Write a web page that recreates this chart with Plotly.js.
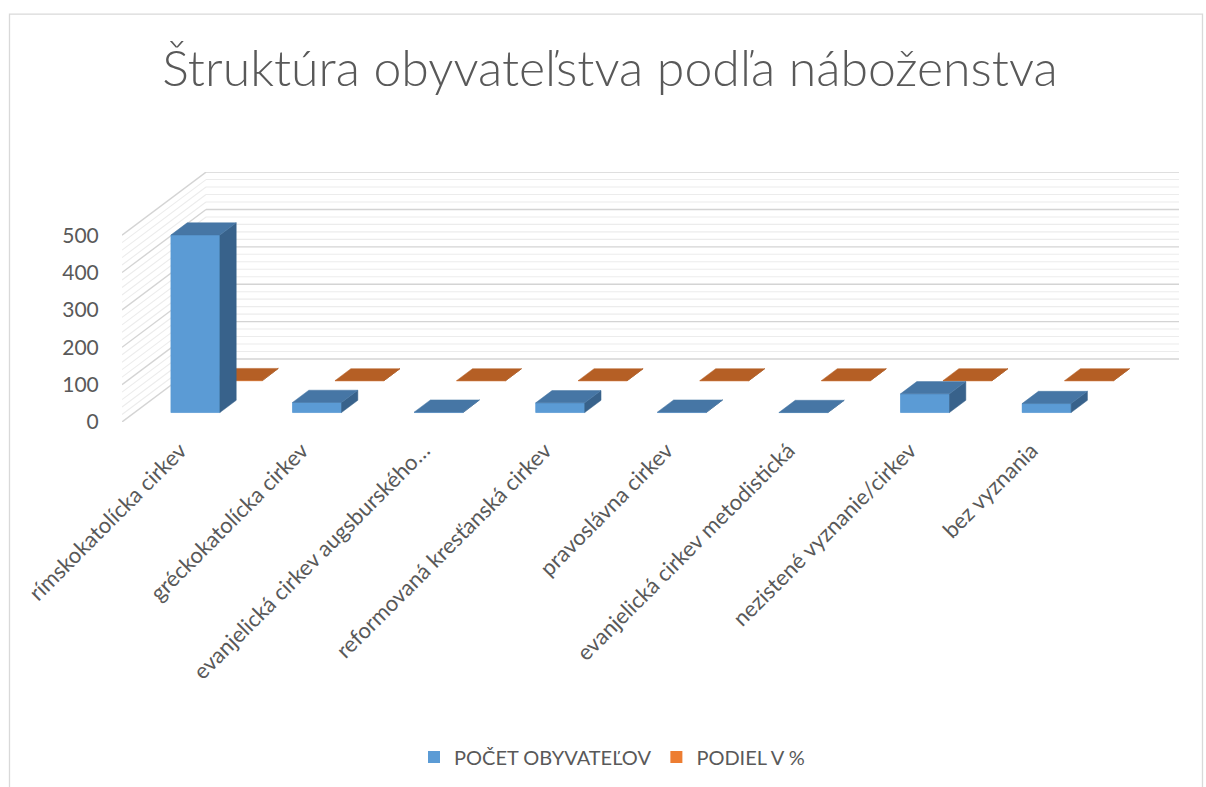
<!DOCTYPE html>
<html>
<head>
<meta charset="utf-8">
<script src="https://cdn.plot.ly/plotly-3.0.1.min.js"></script>
<style>html,body{margin:0;padding:0;background:#fff;}#chart{width:1206px;height:787px;}</style>
</head>
<body>
<div id="chart"></div>
<script>
// ---- data ----
const categories = [
  "rímskokatolícka cirkev",
  "gréckokatolícka cirkev",
  "evanjelická cirkev augsburského…",
  "reformovaná kresťanská cirkev",
  "pravoslávna cirkev",
  "evanjelická cirkev metodistická",
  "nezistené vyznanie/cirkev",
  "bez vyznania"
];
const pocetObyvatelov = [475, 27, 1, 26, 1, 0, 50, 24];
const podielPercent = [0.786, 0.045, 0.002, 0.043, 0.002, 0, 0.083, 0.04];
const yTicks = [0, 100, 200, 300, 400, 500];
const seriesNames = ["POČET OBYVATEĽOV", "PODIEL V %"];

// ---- projection (oblique 3D look) ----
const PX_PER_UNIT = 0.3752;   // px per value unit
const PX_PER_CAT = 121.6;     // px per category
const SLANT = 1.327;          // horizontal px per vertical depth px
const WALL_DEPTH = 63.3;      // px
const BAR_W = 0.403;
function dOff(d){ return [d * SLANT / PX_PER_CAT, d / PX_PER_UNIT]; }
const XMAX = 1057 / PX_PER_CAT;
const YMAX = 251 / PX_PER_UNIT;

const rows = [
  {vals: pocetObyvatelov, front: 9.5, back: 21.8, color: "#5B9BD5", top: "#4676A5", side: "#38628B"},
  {vals: podielPercent, front: 41.5, back: 53.5, color: "#ED7D31", top: "#B55F25", side: "#96501F"}
];

const legendTraces = [];
const faceTraces = [];
// back row first so the front row covers it
[1, 0].forEach(r => {
  const row = rows[r];
  const [fx, fy] = dOff(row.front);
  const [bx, by] = dOff(row.back);
  legendTraces.push({
    type: "bar", x: categories.map((c, i) => i + 0.5 + fx), y: row.vals, base: row.vals.map(() => fy), width: BAR_W,
    marker: {color: row.color, line: {width: 0}}, name: seriesNames[r],
    hoverinfo: "skip", legendrank: r
  });
  const frX = [], frY = [], topX = [], topY = [], sideX = [], sideY = [];
  row.vals.forEach((v, i) => {
    const xl = i + 0.5 - BAR_W / 2, xr = i + 0.5 + BAR_W / 2;
    frX.push(xl + fx, xr + fx, xr + fx, xl + fx, xl + fx, null);
    frY.push(fy, fy, v + fy, v + fy, fy, null);
    topX.push(xl + fx, xr + fx, xr + bx, xl + bx, xl + fx, null);
    topY.push(v + fy, v + fy, v + by, v + by, v + fy, null);
    sideX.push(xr + fx, xr + bx, xr + bx, xr + fx, xr + fx, null);
    sideY.push(fy, by, v + by, v + fy, fy, null);
  });
  faceTraces.push({type: "scatter", mode: "lines", x: frX, y: frY, fill: "toself",
    fillcolor: row.color, line: {width: 0.5, color: row.color}, showlegend: false, hoverinfo: "skip"});
  faceTraces.push({type: "scatter", mode: "lines", x: sideX, y: sideY, fill: "toself",
    fillcolor: row.side, line: {width: 0.5, color: row.side}, showlegend: false, hoverinfo: "skip"});
  faceTraces.push({type: "scatter", mode: "lines", x: topX, y: topY, fill: "toself",
    fillcolor: row.top, line: {width: 0.5, color: row.top}, showlegend: false, hoverinfo: "skip"});
});
const traces = legendTraces.reverse().concat(faceTraces);

// ---- walls (gridlines) ----
const shapes = [];
const [wx, wy] = dOff(WALL_DEPTH);
for (let v = 0; v <= 500; v += 20) {
  const major = v % 100 === 0;
  const ln = {color: major ? "#D4D4D4" : "#ECECEC", width: major ? 1.4 : 1.1};
  shapes.push({type: "line", layer: "below", xref: "x", yref: "y", x0: 0, y0: v, x1: wx, y1: v + wy, line: ln});
  shapes.push({type: "line", layer: "below", xref: "x", yref: "y", x0: wx, y0: v + wy, x1: XMAX, y1: v + wy, line: ln});
}
// chart border
const pxX = p => (p - 122) / 1057;
const pxY = p => (423 - p) / 251;
shapes.push({type: "rect", xref: "paper", yref: "paper", x0: pxX(9.5), x1: pxX(1202.5), y0: pxY(13.5), y1: pxY(800),
  line: {color: "#D9D9D9", width: 1.3}, fillcolor: "rgba(0,0,0,0)", layer: "below"});

const font = "Lato, 'Open Sans', sans-serif";
const grey = "#595959";
const layout = {
  width: 1206, height: 787,
  margin: {l: 122, r: 27, t: 172, b: 364},
  paper_bgcolor: "#fff", plot_bgcolor: "rgba(0,0,0,0)",
  barmode: "overlay",
  showlegend: true,
  title: {text: "Štruktúra obyvateľstva podľa náboženstva", xref: "container", yref: "container",
    x: 610 / 1206, y: 1 - 68 / 787, xanchor: "center", yanchor: "middle",
    font: {family: font, size: 50, color: grey, weight: 300}},
  xaxis: {range: [0, XMAX], tickmode: "array", tickvals: categories.map((c, i) => i + 0.5 - 0.02), ticktext: categories,
    tickangle: -45, showgrid: false, zeroline: false, showline: false, ticks: "outside", ticklen: 6,
    tickcolor: "rgba(0,0,0,0)", tickfont: {family: font, size: 22, color: grey}, fixedrange: true},
  yaxis: {range: [0, YMAX], tickmode: "array", tickvals: yTicks, ticktext: yTicks.map(String),
    showgrid: false, zeroline: false, showline: false, ticks: "outside", ticklen: 18,
    tickcolor: "rgba(0,0,0,0)", tickfont: {family: font, size: 21, color: grey}, fixedrange: true},
  legend: {orientation: "h", x: pxX(612), xanchor: "center", y: pxY(757), yanchor: "middle",
    font: {family: font, size: 20, color: grey}, traceorder: "normal", itemclick: false},
  shapes: shapes
};
Plotly.newPlot("chart", traces, layout, {displayModeBar: false, staticPlot: true});
</script>
</body>
</html>
